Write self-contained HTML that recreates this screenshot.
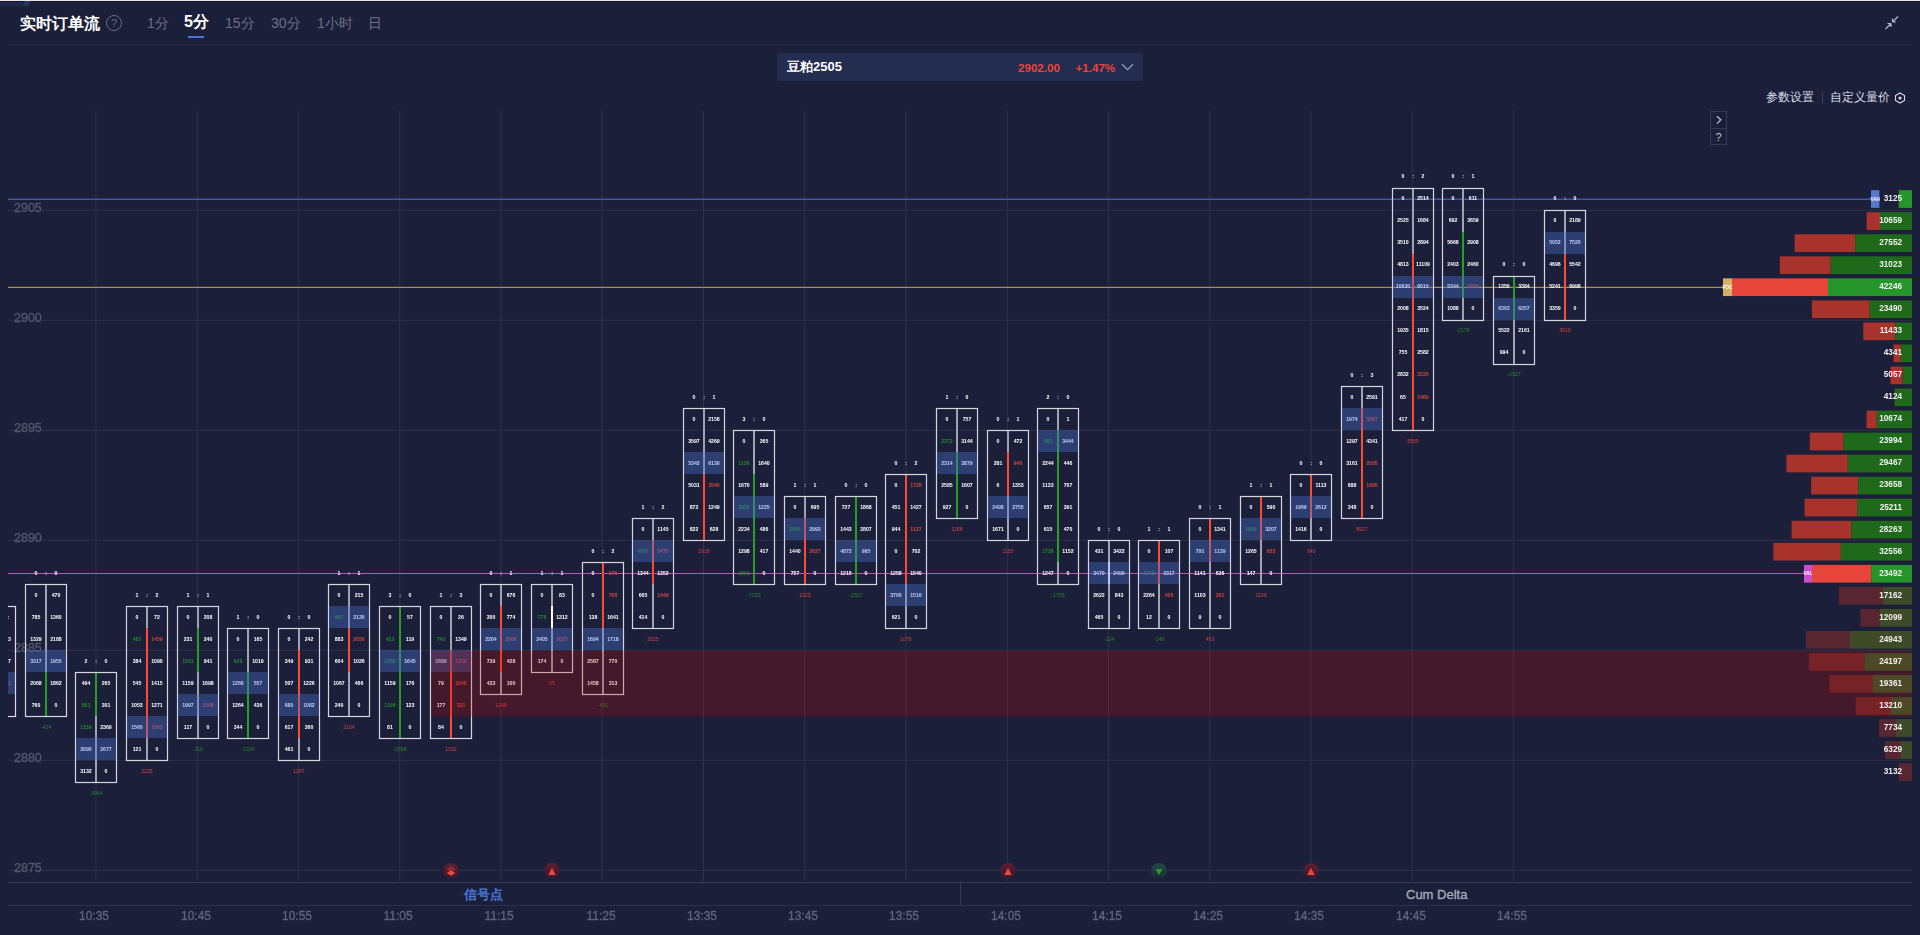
<!DOCTYPE html>
<html><head><meta charset="utf-8"><style>
html,body{margin:0;padding:0;}
body{width:1920px;height:935px;background:#1b1f39;overflow:hidden;position:relative;font-family:"Liberation Sans",sans-serif;}
.a{position:absolute;white-space:nowrap;}
svg text{font-family:"Liberation Sans",sans-serif;}
</style></head><body>
<div class="a" style="left:0;top:0;width:1920px;height:1px;background:#e6e6e8"></div>
<div class="a" style="left:0;top:1px;width:1920px;height:1px;background:#0e1130"></div>
<div class="a" style="left:0;top:2px;width:22px;height:4px;background:#212849"></div>
<div class="a" style="left:22px;top:1px;width:9px;height:5px;background:#263466;clip-path:polygon(30% 0,100% 0,70% 100%,0 100%)"></div>
<div class="a" style="left:20px;top:14px;font-size:16px;font-weight:bold;color:#fff;line-height:20px">实时订单流</div>
<div class="a" style="left:106px;top:15px;width:14px;height:14px;border:1px solid #6a6d80;border-radius:50%;color:#6a6d80;font-size:11px;line-height:14px;text-align:center">?</div>
<div class="a" style="left:147px;top:13px;font-size:14px;color:#6d7084;line-height:20px">1分</div>
<div class="a" style="left:184px;top:12px;font-size:16px;font-weight:bold;color:#fff;line-height:20px">5分</div>
<div class="a" style="left:188px;top:36px;width:16px;height:2px;background:#4a72d8"></div>
<div class="a" style="left:225px;top:13px;font-size:14px;color:#6d7084;line-height:20px">15分</div>
<div class="a" style="left:271px;top:13px;font-size:14px;color:#6d7084;line-height:20px">30分</div>
<div class="a" style="left:317px;top:13px;font-size:14px;color:#6d7084;line-height:20px">1小时</div>
<div class="a" style="left:368px;top:13px;font-size:14px;color:#6d7084;line-height:20px">日</div>
<div class="a" style="left:8px;top:44px;width:1904px;height:1px;background:#262a42"></div>
<svg class="a" style="left:1884px;top:15px" width="16" height="16" viewBox="0 0 16 16"><path d="M1.5 14 L7 8.5 M7 8.5 L7 12 M7 8.5 L3.5 8.5 M14 1.5 L8.5 7 M8.5 7 L8.5 3.5 M8.5 7 L12 7" stroke="#b8bac6" stroke-width="1.2" fill="none"/></svg>
<div class="a" style="left:777px;top:53px;width:366px;height:28px;background:#242c4f;border-radius:2px"></div>
<div class="a" style="left:787px;top:58px;font-size:13px;font-weight:bold;color:#fff;line-height:18px">豆粕2505</div>
<div class="a" style="left:1018px;top:59px;font-size:11.6px;font-weight:bold;color:#ec443a;line-height:18px">2902.00</div>
<div class="a" style="left:1075.5px;top:59px;font-size:11.6px;font-weight:bold;color:#ec443a;line-height:18px">+1.47%</div>
<svg class="a" style="left:1121px;top:62px" width="14" height="10"><path d="M1 2.2 L6.5 7.6 L12 2.2" stroke="#9aa0b8" stroke-width="1.2" fill="none"/></svg>
<div class="a" style="left:1766px;top:89px;font-size:12px;color:#d8dae2;line-height:16px">参数设置</div>
<div class="a" style="left:1822px;top:92px;width:1px;height:11px;background:#3e4258"></div>
<div class="a" style="left:1830px;top:89px;font-size:12px;color:#d8dae2;line-height:16px">自定义量价</div>
<svg class="a" style="left:1894px;top:92px" width="12" height="12"><path d="M6 1 L10.5 3.5 L10.5 8.5 L6 11 L1.5 8.5 L1.5 3.5 Z" stroke="#d8dae2" stroke-width="1.1" fill="none"/><circle cx="6" cy="6" r="1.6" fill="#d8dae2"/></svg>
<div class="a" style="left:1710px;top:111px;width:15px;height:32px;border:1px solid #363a54"></div>
<div class="a" style="left:1711px;top:128px;width:15px;height:1px;background:#363a54"></div>
<svg class="a" style="left:1715px;top:115px" width="8" height="10"><path d="M2 1.3 L5.8 4.8 L2 8.6" stroke="#c4c6d0" stroke-width="1.2" fill="none"/></svg>
<div class="a" style="left:1711px;top:131px;width:15px;color:#c4c6d0;font-size:11px;line-height:13px;text-align:center">?</div>
<div class="a" style="left:464px;top:885.5px;font-size:13px;font-weight:bold;color:#4a78d8;line-height:18px">信号点</div>
<div class="a" style="left:1406px;top:885.5px;font-size:13px;color:#a6a9b8;-webkit-text-stroke:0.35px #a6a9b8;line-height:18px">Cum Delta</div>
<svg class="a" style="left:0;top:0;will-change:transform" width="1920" height="935">
<defs>
<clipPath id="clipc"><rect x="8" y="100" width="1904" height="800"/></clipPath>
<linearGradient id="rg" x1="0" y1="0" x2="0" y2="1"><stop offset="0" stop-color="#5e1f30"/><stop offset="0.5" stop-color="#4a1c30"/><stop offset="1" stop-color="#2a1c36"/></linearGradient>
<linearGradient id="gg" x1="0" y1="0" x2="0" y2="1"><stop offset="0" stop-color="#1e4a48"/><stop offset="0.5" stop-color="#1c3a40"/><stop offset="1" stop-color="#1c2738"/></linearGradient>
</defs>
<line x1="8" y1="210.3" x2="1912" y2="210.3" stroke="#2f3249" stroke-width="1"/>
<line x1="8" y1="320.3" x2="1912" y2="320.3" stroke="#2f3249" stroke-width="1"/>
<line x1="8" y1="430.3" x2="1912" y2="430.3" stroke="#2f3249" stroke-width="1"/>
<line x1="8" y1="540.3" x2="1912" y2="540.3" stroke="#2f3249" stroke-width="1"/>
<line x1="8" y1="650.3" x2="1912" y2="650.3" stroke="#2f3249" stroke-width="1"/>
<line x1="8" y1="760.3" x2="1912" y2="760.3" stroke="#2f3249" stroke-width="1"/>
<line x1="8" y1="870.3" x2="1912" y2="870.3" stroke="#2f3249" stroke-width="1"/>
<line x1="95.95" y1="111" x2="95.95" y2="881" stroke="#2f3249" stroke-width="1"/>
<line x1="197.21" y1="111" x2="197.21" y2="881" stroke="#2f3249" stroke-width="1"/>
<line x1="298.47" y1="111" x2="298.47" y2="881" stroke="#2f3249" stroke-width="1"/>
<line x1="399.73" y1="111" x2="399.73" y2="881" stroke="#2f3249" stroke-width="1"/>
<line x1="500.99" y1="111" x2="500.99" y2="881" stroke="#2f3249" stroke-width="1"/>
<line x1="602.25" y1="111" x2="602.25" y2="881" stroke="#2f3249" stroke-width="1"/>
<line x1="703.51" y1="111" x2="703.51" y2="881" stroke="#2f3249" stroke-width="1"/>
<line x1="804.77" y1="111" x2="804.77" y2="881" stroke="#2f3249" stroke-width="1"/>
<line x1="906.03" y1="111" x2="906.03" y2="881" stroke="#2f3249" stroke-width="1"/>
<line x1="1007.29" y1="111" x2="1007.29" y2="881" stroke="#2f3249" stroke-width="1"/>
<line x1="1108.55" y1="111" x2="1108.55" y2="881" stroke="#2f3249" stroke-width="1"/>
<line x1="1209.81" y1="111" x2="1209.81" y2="881" stroke="#2f3249" stroke-width="1"/>
<line x1="1311.07" y1="111" x2="1311.07" y2="881" stroke="#2f3249" stroke-width="1"/>
<line x1="1412.33" y1="111" x2="1412.33" y2="881" stroke="#2f3249" stroke-width="1"/>
<line x1="1513.59" y1="111" x2="1513.59" y2="881" stroke="#2f3249" stroke-width="1"/>
<text x="14" y="211.9" font-size="12.5" fill="#53576c" stroke="#53576c" stroke-width="0.35">2905</text>
<text x="14" y="321.9" font-size="12.5" fill="#53576c" stroke="#53576c" stroke-width="0.35">2900</text>
<text x="14" y="431.9" font-size="12.5" fill="#53576c" stroke="#53576c" stroke-width="0.35">2895</text>
<text x="14" y="541.9" font-size="12.5" fill="#53576c" stroke="#53576c" stroke-width="0.35">2890</text>
<text x="14" y="651.9" font-size="12.5" fill="#53576c" stroke="#53576c" stroke-width="0.35">2885</text>
<text x="14" y="761.9" font-size="12.5" fill="#53576c" stroke="#53576c" stroke-width="0.35">2880</text>
<text x="14" y="871.9" font-size="12.5" fill="#53576c" stroke="#53576c" stroke-width="0.35">2875</text>
<rect x="8" y="198" width="1863" height="1" fill="#2c3a6c"/>
<rect x="8" y="199" width="1863" height="1" fill="#3e5a9c"/>
<rect x="8" y="286" width="1715" height="1" fill="#3a3840"/>
<rect x="8" y="287" width="1715" height="1" fill="#a88f52"/>
<rect x="8" y="573" width="1796" height="1" fill="#bf50bc"/>
<g clip-path="url(#clipc)">
<rect x="-25.5" y="606.5" width="41" height="110" fill="none" stroke="#dcdce2" stroke-width="1.2"/>
<text x="8.7" y="618.9" font-size="5.2" font-weight="bold" fill="#ffffff" text-anchor="middle">:</text>
<text x="5.0" y="640.9" font-size="5.2" font-weight="bold" fill="#ffffff" text-anchor="middle">2213</text>
<text x="5.0" y="662.9" font-size="5.2" font-weight="bold" fill="#ffffff" text-anchor="middle">3387</text>
<text x="5.0" y="685.0" font-size="5.2" font-weight="bold" fill="#d4443a" text-anchor="middle">2471</text>
<rect x="8" y="672" width="7" height="22" fill="#4a72d0" fill-opacity="0.38"/>
<rect x="45" y="584" width="2" height="132" fill="#a0a2b0"/>
<rect x="45" y="672" width="2" height="44" fill="#24a024"/>
<rect x="25.5" y="584.5" width="41" height="132" fill="none" stroke="#d6d8e0" stroke-width="1.2"/>
<text x="36.0" y="596.8" font-size="5.2" font-weight="bold" fill="#ffffff" text-anchor="middle">0</text>
<text x="56.0" y="596.8" font-size="5.2" font-weight="bold" fill="#ffffff" text-anchor="middle">470</text>
<text x="36.0" y="618.9" font-size="5.2" font-weight="bold" fill="#ffffff" text-anchor="middle">785</text>
<text x="56.0" y="618.9" font-size="5.2" font-weight="bold" fill="#ffffff" text-anchor="middle">1360</text>
<text x="36.0" y="640.9" font-size="5.2" font-weight="bold" fill="#ffffff" text-anchor="middle">1329</text>
<text x="56.0" y="640.9" font-size="5.2" font-weight="bold" fill="#ffffff" text-anchor="middle">2188</text>
<text x="36.0" y="662.9" font-size="5.2" font-weight="bold" fill="#ffffff" text-anchor="middle">3317</text>
<text x="56.0" y="662.9" font-size="5.2" font-weight="bold" fill="#ffffff" text-anchor="middle">1955</text>
<text x="36.0" y="685.0" font-size="5.2" font-weight="bold" fill="#ffffff" text-anchor="middle">2068</text>
<text x="56.0" y="685.0" font-size="5.2" font-weight="bold" fill="#ffffff" text-anchor="middle">1862</text>
<text x="36.0" y="707.0" font-size="5.2" font-weight="bold" fill="#ffffff" text-anchor="middle">760</text>
<text x="56.0" y="707.0" font-size="5.2" font-weight="bold" fill="#ffffff" text-anchor="middle">0</text>
<text x="36.0" y="575.0" font-size="5.2" font-weight="bold" fill="#ffffff" text-anchor="middle">0</text>
<text x="46.0" y="575.0" font-size="5.2" font-weight="bold" fill="#ffffff" text-anchor="middle">:</text>
<text x="56.0" y="575.0" font-size="5.2" font-weight="bold" fill="#ffffff" text-anchor="middle">0</text>
<text x="46.0" y="729.1" font-size="5.2" font-weight="normal" fill="#23892b" text-anchor="middle">-424</text>
<rect x="26.1" y="650" width="39.8" height="22" fill="#4a72d0" fill-opacity="0.38"/>
<rect x="95" y="672" width="2" height="110" fill="#a0a2b0"/>
<rect x="95" y="672" width="2" height="44" fill="#24a024"/>
<rect x="75.5" y="672.5" width="41" height="110" fill="none" stroke="#d6d8e0" stroke-width="1.2"/>
<text x="86.0" y="685.0" font-size="5.2" font-weight="bold" fill="#ffffff" text-anchor="middle">494</text>
<text x="106.0" y="685.0" font-size="5.2" font-weight="bold" fill="#ffffff" text-anchor="middle">265</text>
<text x="86.0" y="707.0" font-size="5.2" font-weight="bold" fill="#23892b" text-anchor="middle">801</text>
<text x="106.0" y="707.0" font-size="5.2" font-weight="bold" fill="#ffffff" text-anchor="middle">301</text>
<text x="86.0" y="729.1" font-size="5.2" font-weight="bold" fill="#23892b" text-anchor="middle">1139</text>
<text x="106.0" y="729.1" font-size="5.2" font-weight="bold" fill="#ffffff" text-anchor="middle">2369</text>
<text x="86.0" y="751.1" font-size="5.2" font-weight="bold" fill="#ffffff" text-anchor="middle">3090</text>
<text x="106.0" y="751.1" font-size="5.2" font-weight="bold" fill="#ffffff" text-anchor="middle">2677</text>
<text x="86.0" y="773.1" font-size="5.2" font-weight="bold" fill="#ffffff" text-anchor="middle">3132</text>
<text x="106.0" y="773.1" font-size="5.2" font-weight="bold" fill="#ffffff" text-anchor="middle">0</text>
<text x="86.0" y="663.1" font-size="5.2" font-weight="bold" fill="#ffffff" text-anchor="middle">2</text>
<text x="96.0" y="663.1" font-size="5.2" font-weight="bold" fill="#ffffff" text-anchor="middle">:</text>
<text x="106.0" y="663.1" font-size="5.2" font-weight="bold" fill="#ffffff" text-anchor="middle">0</text>
<text x="96.0" y="795.2" font-size="5.2" font-weight="normal" fill="#23892b" text-anchor="middle">-3044</text>
<rect x="76.1" y="738" width="39.8" height="22" fill="#4a72d0" fill-opacity="0.38"/>
<rect x="146" y="606" width="2" height="154" fill="#a0a2b0"/>
<rect x="146" y="628" width="2" height="110" fill="#ff4a32"/>
<rect x="126.5" y="606.5" width="41" height="154" fill="none" stroke="#d6d8e0" stroke-width="1.2"/>
<text x="137.0" y="618.9" font-size="5.2" font-weight="bold" fill="#ffffff" text-anchor="middle">0</text>
<text x="157.0" y="618.9" font-size="5.2" font-weight="bold" fill="#ffffff" text-anchor="middle">72</text>
<text x="137.0" y="640.9" font-size="5.2" font-weight="bold" fill="#23892b" text-anchor="middle">482</text>
<text x="157.0" y="640.9" font-size="5.2" font-weight="bold" fill="#d4443a" text-anchor="middle">1459</text>
<text x="137.0" y="662.9" font-size="5.2" font-weight="bold" fill="#ffffff" text-anchor="middle">384</text>
<text x="157.0" y="662.9" font-size="5.2" font-weight="bold" fill="#ffffff" text-anchor="middle">1090</text>
<text x="137.0" y="685.0" font-size="5.2" font-weight="bold" fill="#ffffff" text-anchor="middle">545</text>
<text x="157.0" y="685.0" font-size="5.2" font-weight="bold" fill="#ffffff" text-anchor="middle">1415</text>
<text x="137.0" y="707.0" font-size="5.2" font-weight="bold" fill="#ffffff" text-anchor="middle">1053</text>
<text x="157.0" y="707.0" font-size="5.2" font-weight="bold" fill="#ffffff" text-anchor="middle">1271</text>
<text x="137.0" y="729.1" font-size="5.2" font-weight="bold" fill="#ffffff" text-anchor="middle">1560</text>
<text x="157.0" y="729.1" font-size="5.2" font-weight="bold" fill="#d4443a" text-anchor="middle">1063</text>
<text x="137.0" y="751.1" font-size="5.2" font-weight="bold" fill="#ffffff" text-anchor="middle">121</text>
<text x="157.0" y="751.1" font-size="5.2" font-weight="bold" fill="#ffffff" text-anchor="middle">0</text>
<text x="137.0" y="597.0" font-size="5.2" font-weight="bold" fill="#ffffff" text-anchor="middle">1</text>
<text x="147.0" y="597.0" font-size="5.2" font-weight="bold" fill="#ffffff" text-anchor="middle">:</text>
<text x="157.0" y="597.0" font-size="5.2" font-weight="bold" fill="#ffffff" text-anchor="middle">2</text>
<text x="147.0" y="773.1" font-size="5.2" font-weight="normal" fill="#d4443a" text-anchor="middle">2225</text>
<rect x="127.1" y="716" width="39.8" height="22" fill="#4a72d0" fill-opacity="0.38"/>
<rect x="197" y="606" width="2" height="132" fill="#a0a2b0"/>
<rect x="197" y="628" width="2" height="44" fill="#24a024"/>
<rect x="177.5" y="606.5" width="41" height="132" fill="none" stroke="#d6d8e0" stroke-width="1.2"/>
<text x="188.0" y="618.9" font-size="5.2" font-weight="bold" fill="#ffffff" text-anchor="middle">0</text>
<text x="208.0" y="618.9" font-size="5.2" font-weight="bold" fill="#ffffff" text-anchor="middle">208</text>
<text x="188.0" y="640.9" font-size="5.2" font-weight="bold" fill="#ffffff" text-anchor="middle">231</text>
<text x="208.0" y="640.9" font-size="5.2" font-weight="bold" fill="#ffffff" text-anchor="middle">240</text>
<text x="188.0" y="662.9" font-size="5.2" font-weight="bold" fill="#23892b" text-anchor="middle">1201</text>
<text x="208.0" y="662.9" font-size="5.2" font-weight="bold" fill="#ffffff" text-anchor="middle">941</text>
<text x="188.0" y="685.0" font-size="5.2" font-weight="bold" fill="#ffffff" text-anchor="middle">1159</text>
<text x="208.0" y="685.0" font-size="5.2" font-weight="bold" fill="#ffffff" text-anchor="middle">1698</text>
<text x="188.0" y="707.0" font-size="5.2" font-weight="bold" fill="#ffffff" text-anchor="middle">1997</text>
<text x="208.0" y="707.0" font-size="5.2" font-weight="bold" fill="#d4443a" text-anchor="middle">1508</text>
<text x="188.0" y="729.1" font-size="5.2" font-weight="bold" fill="#ffffff" text-anchor="middle">117</text>
<text x="208.0" y="729.1" font-size="5.2" font-weight="bold" fill="#ffffff" text-anchor="middle">0</text>
<text x="188.0" y="597.0" font-size="5.2" font-weight="bold" fill="#ffffff" text-anchor="middle">1</text>
<text x="198.0" y="597.0" font-size="5.2" font-weight="bold" fill="#ffffff" text-anchor="middle">:</text>
<text x="208.0" y="597.0" font-size="5.2" font-weight="bold" fill="#ffffff" text-anchor="middle">1</text>
<text x="198.0" y="751.1" font-size="5.2" font-weight="normal" fill="#23892b" text-anchor="middle">-110</text>
<rect x="178.1" y="694" width="39.8" height="22" fill="#4a72d0" fill-opacity="0.38"/>
<rect x="247" y="628" width="2" height="110" fill="#a0a2b0"/>
<rect x="247" y="672" width="2" height="66" fill="#24a024"/>
<rect x="227.5" y="628.5" width="41" height="110" fill="none" stroke="#d6d8e0" stroke-width="1.2"/>
<text x="238.0" y="640.9" font-size="5.2" font-weight="bold" fill="#ffffff" text-anchor="middle">0</text>
<text x="258.0" y="640.9" font-size="5.2" font-weight="bold" fill="#ffffff" text-anchor="middle">165</text>
<text x="238.0" y="662.9" font-size="5.2" font-weight="bold" fill="#23892b" text-anchor="middle">629</text>
<text x="258.0" y="662.9" font-size="5.2" font-weight="bold" fill="#ffffff" text-anchor="middle">1019</text>
<text x="238.0" y="685.0" font-size="5.2" font-weight="bold" fill="#ffffff" text-anchor="middle">1266</text>
<text x="258.0" y="685.0" font-size="5.2" font-weight="bold" fill="#ffffff" text-anchor="middle">557</text>
<text x="238.0" y="707.0" font-size="5.2" font-weight="bold" fill="#ffffff" text-anchor="middle">1264</text>
<text x="258.0" y="707.0" font-size="5.2" font-weight="bold" fill="#ffffff" text-anchor="middle">436</text>
<text x="238.0" y="729.1" font-size="5.2" font-weight="bold" fill="#ffffff" text-anchor="middle">344</text>
<text x="258.0" y="729.1" font-size="5.2" font-weight="bold" fill="#ffffff" text-anchor="middle">0</text>
<text x="238.0" y="619.1" font-size="5.2" font-weight="bold" fill="#ffffff" text-anchor="middle">1</text>
<text x="248.0" y="619.1" font-size="5.2" font-weight="bold" fill="#ffffff" text-anchor="middle">:</text>
<text x="258.0" y="619.1" font-size="5.2" font-weight="bold" fill="#ffffff" text-anchor="middle">0</text>
<text x="248.0" y="751.1" font-size="5.2" font-weight="normal" fill="#23892b" text-anchor="middle">-1326</text>
<rect x="228.1" y="672" width="39.8" height="22" fill="#4a72d0" fill-opacity="0.38"/>
<rect x="298" y="628" width="2" height="132" fill="#a0a2b0"/>
<rect x="298" y="650" width="2" height="88" fill="#ff4a32"/>
<rect x="278.5" y="628.5" width="41" height="132" fill="none" stroke="#d6d8e0" stroke-width="1.2"/>
<text x="289.0" y="640.9" font-size="5.2" font-weight="bold" fill="#ffffff" text-anchor="middle">0</text>
<text x="309.0" y="640.9" font-size="5.2" font-weight="bold" fill="#ffffff" text-anchor="middle">242</text>
<text x="289.0" y="662.9" font-size="5.2" font-weight="bold" fill="#ffffff" text-anchor="middle">349</text>
<text x="309.0" y="662.9" font-size="5.2" font-weight="bold" fill="#ffffff" text-anchor="middle">931</text>
<text x="289.0" y="685.0" font-size="5.2" font-weight="bold" fill="#ffffff" text-anchor="middle">507</text>
<text x="309.0" y="685.0" font-size="5.2" font-weight="bold" fill="#ffffff" text-anchor="middle">1226</text>
<text x="289.0" y="707.0" font-size="5.2" font-weight="bold" fill="#ffffff" text-anchor="middle">680</text>
<text x="309.0" y="707.0" font-size="5.2" font-weight="bold" fill="#ffffff" text-anchor="middle">1082</text>
<text x="289.0" y="729.1" font-size="5.2" font-weight="bold" fill="#ffffff" text-anchor="middle">617</text>
<text x="309.0" y="729.1" font-size="5.2" font-weight="bold" fill="#ffffff" text-anchor="middle">360</text>
<text x="289.0" y="751.1" font-size="5.2" font-weight="bold" fill="#ffffff" text-anchor="middle">461</text>
<text x="309.0" y="751.1" font-size="5.2" font-weight="bold" fill="#ffffff" text-anchor="middle">0</text>
<text x="289.0" y="619.1" font-size="5.2" font-weight="bold" fill="#ffffff" text-anchor="middle">0</text>
<text x="299.0" y="619.1" font-size="5.2" font-weight="bold" fill="#ffffff" text-anchor="middle">:</text>
<text x="309.0" y="619.1" font-size="5.2" font-weight="bold" fill="#ffffff" text-anchor="middle">0</text>
<text x="299.0" y="773.1" font-size="5.2" font-weight="normal" fill="#d4443a" text-anchor="middle">1267</text>
<rect x="279.1" y="694" width="39.8" height="22" fill="#4a72d0" fill-opacity="0.38"/>
<rect x="348" y="584" width="2" height="132" fill="#a0a2b0"/>
<rect x="348" y="628" width="2" height="44" fill="#ff4a32"/>
<rect x="328.5" y="584.5" width="41" height="132" fill="none" stroke="#d6d8e0" stroke-width="1.2"/>
<text x="339.0" y="596.8" font-size="5.2" font-weight="bold" fill="#ffffff" text-anchor="middle">0</text>
<text x="359.0" y="596.8" font-size="5.2" font-weight="bold" fill="#ffffff" text-anchor="middle">215</text>
<text x="339.0" y="618.9" font-size="5.2" font-weight="bold" fill="#23892b" text-anchor="middle">997</text>
<text x="359.0" y="618.9" font-size="5.2" font-weight="bold" fill="#ffffff" text-anchor="middle">2130</text>
<text x="339.0" y="640.9" font-size="5.2" font-weight="bold" fill="#ffffff" text-anchor="middle">883</text>
<text x="359.0" y="640.9" font-size="5.2" font-weight="bold" fill="#d4443a" text-anchor="middle">2050</text>
<text x="339.0" y="662.9" font-size="5.2" font-weight="bold" fill="#ffffff" text-anchor="middle">604</text>
<text x="359.0" y="662.9" font-size="5.2" font-weight="bold" fill="#ffffff" text-anchor="middle">1026</text>
<text x="339.0" y="685.0" font-size="5.2" font-weight="bold" fill="#ffffff" text-anchor="middle">1067</text>
<text x="359.0" y="685.0" font-size="5.2" font-weight="bold" fill="#ffffff" text-anchor="middle">466</text>
<text x="339.0" y="707.0" font-size="5.2" font-weight="bold" fill="#ffffff" text-anchor="middle">240</text>
<text x="359.0" y="707.0" font-size="5.2" font-weight="bold" fill="#ffffff" text-anchor="middle">0</text>
<text x="339.0" y="575.0" font-size="5.2" font-weight="bold" fill="#ffffff" text-anchor="middle">1</text>
<text x="349.0" y="575.0" font-size="5.2" font-weight="bold" fill="#ffffff" text-anchor="middle">:</text>
<text x="359.0" y="575.0" font-size="5.2" font-weight="bold" fill="#ffffff" text-anchor="middle">1</text>
<text x="349.0" y="729.1" font-size="5.2" font-weight="normal" fill="#d4443a" text-anchor="middle">2104</text>
<rect x="329.1" y="606" width="39.8" height="22" fill="#4a72d0" fill-opacity="0.38"/>
<rect x="399" y="606" width="2" height="132" fill="#a0a2b0"/>
<rect x="399" y="606" width="2" height="132" fill="#24a024"/>
<rect x="379.5" y="606.5" width="41" height="132" fill="none" stroke="#d6d8e0" stroke-width="1.2"/>
<text x="390.0" y="618.9" font-size="5.2" font-weight="bold" fill="#ffffff" text-anchor="middle">0</text>
<text x="410.0" y="618.9" font-size="5.2" font-weight="bold" fill="#ffffff" text-anchor="middle">57</text>
<text x="390.0" y="640.9" font-size="5.2" font-weight="bold" fill="#23892b" text-anchor="middle">422</text>
<text x="410.0" y="640.9" font-size="5.2" font-weight="bold" fill="#ffffff" text-anchor="middle">119</text>
<text x="390.0" y="662.9" font-size="5.2" font-weight="bold" fill="#23892b" text-anchor="middle">1360</text>
<text x="410.0" y="662.9" font-size="5.2" font-weight="bold" fill="#ffffff" text-anchor="middle">1645</text>
<text x="390.0" y="685.0" font-size="5.2" font-weight="bold" fill="#ffffff" text-anchor="middle">1159</text>
<text x="410.0" y="685.0" font-size="5.2" font-weight="bold" fill="#ffffff" text-anchor="middle">176</text>
<text x="390.0" y="707.0" font-size="5.2" font-weight="bold" fill="#23892b" text-anchor="middle">1196</text>
<text x="410.0" y="707.0" font-size="5.2" font-weight="bold" fill="#ffffff" text-anchor="middle">123</text>
<text x="390.0" y="729.1" font-size="5.2" font-weight="bold" fill="#ffffff" text-anchor="middle">81</text>
<text x="410.0" y="729.1" font-size="5.2" font-weight="bold" fill="#ffffff" text-anchor="middle">0</text>
<text x="390.0" y="597.0" font-size="5.2" font-weight="bold" fill="#ffffff" text-anchor="middle">3</text>
<text x="400.0" y="597.0" font-size="5.2" font-weight="bold" fill="#ffffff" text-anchor="middle">:</text>
<text x="410.0" y="597.0" font-size="5.2" font-weight="bold" fill="#ffffff" text-anchor="middle">0</text>
<text x="400.0" y="751.1" font-size="5.2" font-weight="normal" fill="#23892b" text-anchor="middle">-2098</text>
<rect x="380.1" y="650" width="39.8" height="22" fill="#4a72d0" fill-opacity="0.38"/>
<rect x="450" y="606" width="2" height="132" fill="#a0a2b0"/>
<rect x="450" y="650" width="2" height="88" fill="#ff4a32"/>
<rect x="430.5" y="606.5" width="41" height="132" fill="none" stroke="#d6d8e0" stroke-width="1.2"/>
<text x="441.0" y="618.9" font-size="5.2" font-weight="bold" fill="#ffffff" text-anchor="middle">0</text>
<text x="461.0" y="618.9" font-size="5.2" font-weight="bold" fill="#ffffff" text-anchor="middle">26</text>
<text x="441.0" y="640.9" font-size="5.2" font-weight="bold" fill="#23892b" text-anchor="middle">742</text>
<text x="461.0" y="640.9" font-size="5.2" font-weight="bold" fill="#ffffff" text-anchor="middle">1349</text>
<text x="441.0" y="662.9" font-size="5.2" font-weight="bold" fill="#ffffff" text-anchor="middle">1689</text>
<text x="461.0" y="662.9" font-size="5.2" font-weight="bold" fill="#d4443a" text-anchor="middle">1359</text>
<text x="441.0" y="685.0" font-size="5.2" font-weight="bold" fill="#ffffff" text-anchor="middle">79</text>
<text x="461.0" y="685.0" font-size="5.2" font-weight="bold" fill="#d4443a" text-anchor="middle">1048</text>
<text x="441.0" y="707.0" font-size="5.2" font-weight="bold" fill="#ffffff" text-anchor="middle">177</text>
<text x="461.0" y="707.0" font-size="5.2" font-weight="bold" fill="#d4443a" text-anchor="middle">321</text>
<text x="441.0" y="729.1" font-size="5.2" font-weight="bold" fill="#ffffff" text-anchor="middle">84</text>
<text x="461.0" y="729.1" font-size="5.2" font-weight="bold" fill="#ffffff" text-anchor="middle">0</text>
<text x="441.0" y="597.0" font-size="5.2" font-weight="bold" fill="#ffffff" text-anchor="middle">1</text>
<text x="451.0" y="597.0" font-size="5.2" font-weight="bold" fill="#ffffff" text-anchor="middle">:</text>
<text x="461.0" y="597.0" font-size="5.2" font-weight="bold" fill="#ffffff" text-anchor="middle">3</text>
<text x="451.0" y="751.1" font-size="5.2" font-weight="normal" fill="#d4443a" text-anchor="middle">1332</text>
<rect x="431.1" y="650" width="39.8" height="22" fill="#4a72d0" fill-opacity="0.38"/>
<rect x="500" y="584" width="2" height="110" fill="#a0a2b0"/>
<rect x="500" y="606" width="2" height="66" fill="#ff4a32"/>
<rect x="480.5" y="584.5" width="41" height="110" fill="none" stroke="#d6d8e0" stroke-width="1.2"/>
<text x="491.0" y="596.8" font-size="5.2" font-weight="bold" fill="#ffffff" text-anchor="middle">0</text>
<text x="511.0" y="596.8" font-size="5.2" font-weight="bold" fill="#ffffff" text-anchor="middle">676</text>
<text x="491.0" y="618.9" font-size="5.2" font-weight="bold" fill="#ffffff" text-anchor="middle">300</text>
<text x="511.0" y="618.9" font-size="5.2" font-weight="bold" fill="#ffffff" text-anchor="middle">774</text>
<text x="491.0" y="640.9" font-size="5.2" font-weight="bold" fill="#ffffff" text-anchor="middle">2264</text>
<text x="511.0" y="640.9" font-size="5.2" font-weight="bold" fill="#d4443a" text-anchor="middle">3006</text>
<text x="491.0" y="662.9" font-size="5.2" font-weight="bold" fill="#ffffff" text-anchor="middle">739</text>
<text x="511.0" y="662.9" font-size="5.2" font-weight="bold" fill="#ffffff" text-anchor="middle">428</text>
<text x="491.0" y="685.0" font-size="5.2" font-weight="bold" fill="#ffffff" text-anchor="middle">433</text>
<text x="511.0" y="685.0" font-size="5.2" font-weight="bold" fill="#ffffff" text-anchor="middle">100</text>
<text x="491.0" y="575.0" font-size="5.2" font-weight="bold" fill="#ffffff" text-anchor="middle">0</text>
<text x="501.0" y="575.0" font-size="5.2" font-weight="bold" fill="#ffffff" text-anchor="middle">:</text>
<text x="511.0" y="575.0" font-size="5.2" font-weight="bold" fill="#ffffff" text-anchor="middle">1</text>
<text x="501.0" y="707.0" font-size="5.2" font-weight="normal" fill="#d4443a" text-anchor="middle">1248</text>
<rect x="481.1" y="628" width="39.8" height="22" fill="#4a72d0" fill-opacity="0.38"/>
<rect x="551" y="584" width="2" height="88" fill="#a0a2b0"/>
<rect x="551" y="606" width="2" height="22" fill="#ffffff"/>
<rect x="531.5" y="584.5" width="41" height="88" fill="none" stroke="#d6d8e0" stroke-width="1.2"/>
<text x="542.0" y="596.8" font-size="5.2" font-weight="bold" fill="#ffffff" text-anchor="middle">0</text>
<text x="562.0" y="596.8" font-size="5.2" font-weight="bold" fill="#ffffff" text-anchor="middle">83</text>
<text x="542.0" y="618.9" font-size="5.2" font-weight="bold" fill="#23892b" text-anchor="middle">778</text>
<text x="562.0" y="618.9" font-size="5.2" font-weight="bold" fill="#ffffff" text-anchor="middle">1312</text>
<text x="542.0" y="640.9" font-size="5.2" font-weight="bold" fill="#ffffff" text-anchor="middle">2405</text>
<text x="562.0" y="640.9" font-size="5.2" font-weight="bold" fill="#d4443a" text-anchor="middle">2027</text>
<text x="542.0" y="662.9" font-size="5.2" font-weight="bold" fill="#ffffff" text-anchor="middle">174</text>
<text x="562.0" y="662.9" font-size="5.2" font-weight="bold" fill="#ffffff" text-anchor="middle">0</text>
<text x="542.0" y="575.0" font-size="5.2" font-weight="bold" fill="#ffffff" text-anchor="middle">1</text>
<text x="552.0" y="575.0" font-size="5.2" font-weight="bold" fill="#ffffff" text-anchor="middle">:</text>
<text x="562.0" y="575.0" font-size="5.2" font-weight="bold" fill="#ffffff" text-anchor="middle">1</text>
<text x="552.0" y="685.0" font-size="5.2" font-weight="normal" fill="#d4443a" text-anchor="middle">65</text>
<rect x="532.1" y="628" width="39.8" height="22" fill="#4a72d0" fill-opacity="0.38"/>
<rect x="602" y="562" width="2" height="132" fill="#a0a2b0"/>
<rect x="602" y="562" width="2" height="66" fill="#ff4a32"/>
<rect x="582.5" y="562.5" width="41" height="132" fill="none" stroke="#d6d8e0" stroke-width="1.2"/>
<text x="593.0" y="574.8" font-size="5.2" font-weight="bold" fill="#ffffff" text-anchor="middle">0</text>
<text x="613.0" y="574.8" font-size="5.2" font-weight="bold" fill="#d4443a" text-anchor="middle">176</text>
<text x="593.0" y="596.8" font-size="5.2" font-weight="bold" fill="#ffffff" text-anchor="middle">0</text>
<text x="613.0" y="596.8" font-size="5.2" font-weight="bold" fill="#d4443a" text-anchor="middle">768</text>
<text x="593.0" y="618.9" font-size="5.2" font-weight="bold" fill="#ffffff" text-anchor="middle">138</text>
<text x="613.0" y="618.9" font-size="5.2" font-weight="bold" fill="#ffffff" text-anchor="middle">1641</text>
<text x="593.0" y="640.9" font-size="5.2" font-weight="bold" fill="#ffffff" text-anchor="middle">1694</text>
<text x="613.0" y="640.9" font-size="5.2" font-weight="bold" fill="#ffffff" text-anchor="middle">1718</text>
<text x="593.0" y="662.9" font-size="5.2" font-weight="bold" fill="#ffffff" text-anchor="middle">2587</text>
<text x="613.0" y="662.9" font-size="5.2" font-weight="bold" fill="#ffffff" text-anchor="middle">770</text>
<text x="593.0" y="685.0" font-size="5.2" font-weight="bold" fill="#ffffff" text-anchor="middle">1458</text>
<text x="613.0" y="685.0" font-size="5.2" font-weight="bold" fill="#ffffff" text-anchor="middle">313</text>
<text x="593.0" y="552.9" font-size="5.2" font-weight="bold" fill="#ffffff" text-anchor="middle">0</text>
<text x="603.0" y="552.9" font-size="5.2" font-weight="bold" fill="#ffffff" text-anchor="middle">:</text>
<text x="613.0" y="552.9" font-size="5.2" font-weight="bold" fill="#ffffff" text-anchor="middle">2</text>
<text x="603.0" y="707.0" font-size="5.2" font-weight="normal" fill="#23892b" text-anchor="middle">-491</text>
<rect x="583.1" y="628" width="39.8" height="22" fill="#4a72d0" fill-opacity="0.38"/>
<rect x="652" y="518" width="2" height="110" fill="#a0a2b0"/>
<rect x="652" y="540" width="2" height="44" fill="#ff4a32"/>
<rect x="632.5" y="518.5" width="41" height="110" fill="none" stroke="#d6d8e0" stroke-width="1.2"/>
<text x="643.0" y="530.7" font-size="5.2" font-weight="bold" fill="#ffffff" text-anchor="middle">0</text>
<text x="663.0" y="530.7" font-size="5.2" font-weight="bold" fill="#ffffff" text-anchor="middle">1145</text>
<text x="643.0" y="552.7" font-size="5.2" font-weight="bold" fill="#23892b" text-anchor="middle">4072</text>
<text x="663.0" y="552.7" font-size="5.2" font-weight="bold" fill="#d4443a" text-anchor="middle">5475</text>
<text x="643.0" y="574.8" font-size="5.2" font-weight="bold" fill="#ffffff" text-anchor="middle">1344</text>
<text x="663.0" y="574.8" font-size="5.2" font-weight="bold" fill="#ffffff" text-anchor="middle">1352</text>
<text x="643.0" y="596.8" font-size="5.2" font-weight="bold" fill="#ffffff" text-anchor="middle">665</text>
<text x="663.0" y="596.8" font-size="5.2" font-weight="bold" fill="#d4443a" text-anchor="middle">1449</text>
<text x="643.0" y="618.9" font-size="5.2" font-weight="bold" fill="#ffffff" text-anchor="middle">414</text>
<text x="663.0" y="618.9" font-size="5.2" font-weight="bold" fill="#ffffff" text-anchor="middle">0</text>
<text x="643.0" y="508.9" font-size="5.2" font-weight="bold" fill="#ffffff" text-anchor="middle">1</text>
<text x="653.0" y="508.9" font-size="5.2" font-weight="bold" fill="#ffffff" text-anchor="middle">:</text>
<text x="663.0" y="508.9" font-size="5.2" font-weight="bold" fill="#ffffff" text-anchor="middle">2</text>
<text x="653.0" y="640.9" font-size="5.2" font-weight="normal" fill="#d4443a" text-anchor="middle">2925</text>
<rect x="633.1" y="540" width="39.8" height="22" fill="#4a72d0" fill-opacity="0.38"/>
<rect x="703" y="408" width="2" height="132" fill="#a0a2b0"/>
<rect x="703" y="474" width="2" height="66" fill="#ff4a32"/>
<rect x="683.5" y="408.5" width="41" height="132" fill="none" stroke="#d6d8e0" stroke-width="1.2"/>
<text x="694.0" y="420.5" font-size="5.2" font-weight="bold" fill="#ffffff" text-anchor="middle">0</text>
<text x="714.0" y="420.5" font-size="5.2" font-weight="bold" fill="#ffffff" text-anchor="middle">2158</text>
<text x="694.0" y="442.5" font-size="5.2" font-weight="bold" fill="#ffffff" text-anchor="middle">3597</text>
<text x="714.0" y="442.5" font-size="5.2" font-weight="bold" fill="#ffffff" text-anchor="middle">4269</text>
<text x="694.0" y="464.6" font-size="5.2" font-weight="bold" fill="#ffffff" text-anchor="middle">5342</text>
<text x="714.0" y="464.6" font-size="5.2" font-weight="bold" fill="#ffffff" text-anchor="middle">6130</text>
<text x="694.0" y="486.6" font-size="5.2" font-weight="bold" fill="#ffffff" text-anchor="middle">5031</text>
<text x="714.0" y="486.6" font-size="5.2" font-weight="bold" fill="#d4443a" text-anchor="middle">3540</text>
<text x="694.0" y="508.7" font-size="5.2" font-weight="bold" fill="#ffffff" text-anchor="middle">872</text>
<text x="714.0" y="508.7" font-size="5.2" font-weight="bold" fill="#ffffff" text-anchor="middle">1249</text>
<text x="694.0" y="530.7" font-size="5.2" font-weight="bold" fill="#ffffff" text-anchor="middle">822</text>
<text x="714.0" y="530.7" font-size="5.2" font-weight="bold" fill="#ffffff" text-anchor="middle">628</text>
<text x="694.0" y="398.7" font-size="5.2" font-weight="bold" fill="#ffffff" text-anchor="middle">0</text>
<text x="704.0" y="398.7" font-size="5.2" font-weight="bold" fill="#ffffff" text-anchor="middle">:</text>
<text x="714.0" y="398.7" font-size="5.2" font-weight="bold" fill="#ffffff" text-anchor="middle">1</text>
<text x="704.0" y="552.7" font-size="5.2" font-weight="normal" fill="#d4443a" text-anchor="middle">2318</text>
<rect x="684.1" y="452" width="39.8" height="22" fill="#4a72d0" fill-opacity="0.38"/>
<rect x="753" y="430" width="2" height="154" fill="#a0a2b0"/>
<rect x="753" y="474" width="2" height="110" fill="#24a024"/>
<rect x="733.5" y="430.5" width="41" height="154" fill="none" stroke="#d6d8e0" stroke-width="1.2"/>
<text x="744.0" y="442.5" font-size="5.2" font-weight="bold" fill="#ffffff" text-anchor="middle">0</text>
<text x="764.0" y="442.5" font-size="5.2" font-weight="bold" fill="#ffffff" text-anchor="middle">365</text>
<text x="744.0" y="464.6" font-size="5.2" font-weight="bold" fill="#23892b" text-anchor="middle">1138</text>
<text x="764.0" y="464.6" font-size="5.2" font-weight="bold" fill="#ffffff" text-anchor="middle">1640</text>
<text x="744.0" y="486.6" font-size="5.2" font-weight="bold" fill="#ffffff" text-anchor="middle">1670</text>
<text x="764.0" y="486.6" font-size="5.2" font-weight="bold" fill="#ffffff" text-anchor="middle">589</text>
<text x="744.0" y="508.7" font-size="5.2" font-weight="bold" fill="#23892b" text-anchor="middle">3950</text>
<text x="764.0" y="508.7" font-size="5.2" font-weight="bold" fill="#ffffff" text-anchor="middle">1225</text>
<text x="744.0" y="530.7" font-size="5.2" font-weight="bold" fill="#ffffff" text-anchor="middle">2234</text>
<text x="764.0" y="530.7" font-size="5.2" font-weight="bold" fill="#ffffff" text-anchor="middle">486</text>
<text x="744.0" y="552.7" font-size="5.2" font-weight="bold" fill="#ffffff" text-anchor="middle">1298</text>
<text x="764.0" y="552.7" font-size="5.2" font-weight="bold" fill="#ffffff" text-anchor="middle">417</text>
<text x="744.0" y="574.8" font-size="5.2" font-weight="bold" fill="#23892b" text-anchor="middle">1691</text>
<text x="764.0" y="574.8" font-size="5.2" font-weight="bold" fill="#ffffff" text-anchor="middle">0</text>
<text x="744.0" y="420.7" font-size="5.2" font-weight="bold" fill="#ffffff" text-anchor="middle">3</text>
<text x="754.0" y="420.7" font-size="5.2" font-weight="bold" fill="#ffffff" text-anchor="middle">:</text>
<text x="764.0" y="420.7" font-size="5.2" font-weight="bold" fill="#ffffff" text-anchor="middle">0</text>
<text x="754.0" y="596.8" font-size="5.2" font-weight="normal" fill="#23892b" text-anchor="middle">-7259</text>
<rect x="734.1" y="496" width="39.8" height="22" fill="#4a72d0" fill-opacity="0.38"/>
<rect x="804" y="496" width="2" height="88" fill="#a0a2b0"/>
<rect x="804" y="518" width="2" height="66" fill="#ff4a32"/>
<rect x="784.5" y="496.5" width="41" height="88" fill="none" stroke="#d6d8e0" stroke-width="1.2"/>
<text x="795.0" y="508.7" font-size="5.2" font-weight="bold" fill="#ffffff" text-anchor="middle">0</text>
<text x="815.0" y="508.7" font-size="5.2" font-weight="bold" fill="#ffffff" text-anchor="middle">695</text>
<text x="795.0" y="530.7" font-size="5.2" font-weight="bold" fill="#23892b" text-anchor="middle">3095</text>
<text x="815.0" y="530.7" font-size="5.2" font-weight="bold" fill="#ffffff" text-anchor="middle">2993</text>
<text x="795.0" y="552.7" font-size="5.2" font-weight="bold" fill="#ffffff" text-anchor="middle">1440</text>
<text x="815.0" y="552.7" font-size="5.2" font-weight="bold" fill="#d4443a" text-anchor="middle">2627</text>
<text x="795.0" y="574.8" font-size="5.2" font-weight="bold" fill="#ffffff" text-anchor="middle">757</text>
<text x="815.0" y="574.8" font-size="5.2" font-weight="bold" fill="#ffffff" text-anchor="middle">0</text>
<text x="795.0" y="486.8" font-size="5.2" font-weight="bold" fill="#ffffff" text-anchor="middle">1</text>
<text x="805.0" y="486.8" font-size="5.2" font-weight="bold" fill="#ffffff" text-anchor="middle">:</text>
<text x="815.0" y="486.8" font-size="5.2" font-weight="bold" fill="#ffffff" text-anchor="middle">1</text>
<text x="805.0" y="596.8" font-size="5.2" font-weight="normal" fill="#d4443a" text-anchor="middle">1023</text>
<rect x="785.1" y="518" width="39.8" height="22" fill="#4a72d0" fill-opacity="0.38"/>
<rect x="855" y="496" width="2" height="88" fill="#a0a2b0"/>
<rect x="855" y="496" width="2" height="88" fill="#24a024"/>
<rect x="835.5" y="496.5" width="41" height="88" fill="none" stroke="#d6d8e0" stroke-width="1.2"/>
<text x="846.0" y="508.7" font-size="5.2" font-weight="bold" fill="#ffffff" text-anchor="middle">727</text>
<text x="866.0" y="508.7" font-size="5.2" font-weight="bold" fill="#ffffff" text-anchor="middle">1868</text>
<text x="846.0" y="530.7" font-size="5.2" font-weight="bold" fill="#ffffff" text-anchor="middle">1443</text>
<text x="866.0" y="530.7" font-size="5.2" font-weight="bold" fill="#ffffff" text-anchor="middle">2807</text>
<text x="846.0" y="552.7" font-size="5.2" font-weight="bold" fill="#ffffff" text-anchor="middle">4872</text>
<text x="866.0" y="552.7" font-size="5.2" font-weight="bold" fill="#ffffff" text-anchor="middle">995</text>
<text x="846.0" y="574.8" font-size="5.2" font-weight="bold" fill="#ffffff" text-anchor="middle">1215</text>
<text x="866.0" y="574.8" font-size="5.2" font-weight="bold" fill="#ffffff" text-anchor="middle">0</text>
<text x="846.0" y="486.8" font-size="5.2" font-weight="bold" fill="#ffffff" text-anchor="middle">0</text>
<text x="856.0" y="486.8" font-size="5.2" font-weight="bold" fill="#ffffff" text-anchor="middle">:</text>
<text x="866.0" y="486.8" font-size="5.2" font-weight="bold" fill="#ffffff" text-anchor="middle">0</text>
<text x="856.0" y="596.8" font-size="5.2" font-weight="normal" fill="#23892b" text-anchor="middle">-2507</text>
<rect x="836.1" y="540" width="39.8" height="22" fill="#4a72d0" fill-opacity="0.38"/>
<rect x="905" y="474" width="2" height="154" fill="#a0a2b0"/>
<rect x="905" y="474" width="2" height="110" fill="#ff4a32"/>
<rect x="885.5" y="474.5" width="41" height="154" fill="none" stroke="#d6d8e0" stroke-width="1.2"/>
<text x="896.0" y="486.6" font-size="5.2" font-weight="bold" fill="#ffffff" text-anchor="middle">0</text>
<text x="916.0" y="486.6" font-size="5.2" font-weight="bold" fill="#d4443a" text-anchor="middle">1728</text>
<text x="896.0" y="508.7" font-size="5.2" font-weight="bold" fill="#ffffff" text-anchor="middle">451</text>
<text x="916.0" y="508.7" font-size="5.2" font-weight="bold" fill="#ffffff" text-anchor="middle">1427</text>
<text x="896.0" y="530.7" font-size="5.2" font-weight="bold" fill="#ffffff" text-anchor="middle">944</text>
<text x="916.0" y="530.7" font-size="5.2" font-weight="bold" fill="#d4443a" text-anchor="middle">1137</text>
<text x="896.0" y="552.7" font-size="5.2" font-weight="bold" fill="#ffffff" text-anchor="middle">0</text>
<text x="916.0" y="552.7" font-size="5.2" font-weight="bold" fill="#ffffff" text-anchor="middle">702</text>
<text x="896.0" y="574.8" font-size="5.2" font-weight="bold" fill="#ffffff" text-anchor="middle">1258</text>
<text x="916.0" y="574.8" font-size="5.2" font-weight="bold" fill="#ffffff" text-anchor="middle">1540</text>
<text x="896.0" y="596.8" font-size="5.2" font-weight="bold" fill="#ffffff" text-anchor="middle">3700</text>
<text x="916.0" y="596.8" font-size="5.2" font-weight="bold" fill="#ffffff" text-anchor="middle">1516</text>
<text x="896.0" y="618.9" font-size="5.2" font-weight="bold" fill="#ffffff" text-anchor="middle">621</text>
<text x="916.0" y="618.9" font-size="5.2" font-weight="bold" fill="#ffffff" text-anchor="middle">0</text>
<text x="896.0" y="464.8" font-size="5.2" font-weight="bold" fill="#ffffff" text-anchor="middle">0</text>
<text x="906.0" y="464.8" font-size="5.2" font-weight="bold" fill="#ffffff" text-anchor="middle">:</text>
<text x="916.0" y="464.8" font-size="5.2" font-weight="bold" fill="#ffffff" text-anchor="middle">2</text>
<text x="906.0" y="640.9" font-size="5.2" font-weight="normal" fill="#d4443a" text-anchor="middle">1076</text>
<rect x="886.1" y="584" width="39.8" height="22" fill="#4a72d0" fill-opacity="0.38"/>
<rect x="956" y="408" width="2" height="110" fill="#a0a2b0"/>
<rect x="956" y="452" width="2" height="66" fill="#24a024"/>
<rect x="936.5" y="408.5" width="41" height="110" fill="none" stroke="#d6d8e0" stroke-width="1.2"/>
<text x="947.0" y="420.5" font-size="5.2" font-weight="bold" fill="#ffffff" text-anchor="middle">0</text>
<text x="967.0" y="420.5" font-size="5.2" font-weight="bold" fill="#ffffff" text-anchor="middle">757</text>
<text x="947.0" y="442.5" font-size="5.2" font-weight="bold" fill="#23892b" text-anchor="middle">2373</text>
<text x="967.0" y="442.5" font-size="5.2" font-weight="bold" fill="#ffffff" text-anchor="middle">3144</text>
<text x="947.0" y="464.6" font-size="5.2" font-weight="bold" fill="#ffffff" text-anchor="middle">2314</text>
<text x="967.0" y="464.6" font-size="5.2" font-weight="bold" fill="#ffffff" text-anchor="middle">3879</text>
<text x="947.0" y="486.6" font-size="5.2" font-weight="bold" fill="#ffffff" text-anchor="middle">2585</text>
<text x="967.0" y="486.6" font-size="5.2" font-weight="bold" fill="#ffffff" text-anchor="middle">1607</text>
<text x="947.0" y="508.7" font-size="5.2" font-weight="bold" fill="#ffffff" text-anchor="middle">927</text>
<text x="967.0" y="508.7" font-size="5.2" font-weight="bold" fill="#ffffff" text-anchor="middle">0</text>
<text x="947.0" y="398.7" font-size="5.2" font-weight="bold" fill="#ffffff" text-anchor="middle">1</text>
<text x="957.0" y="398.7" font-size="5.2" font-weight="bold" fill="#ffffff" text-anchor="middle">:</text>
<text x="967.0" y="398.7" font-size="5.2" font-weight="bold" fill="#ffffff" text-anchor="middle">0</text>
<text x="957.0" y="530.7" font-size="5.2" font-weight="normal" fill="#d4443a" text-anchor="middle">1188</text>
<rect x="937.1" y="452" width="39.8" height="22" fill="#4a72d0" fill-opacity="0.38"/>
<rect x="1007" y="430" width="2" height="110" fill="#a0a2b0"/>
<rect x="1007" y="452" width="2" height="44" fill="#ff4a32"/>
<rect x="987.5" y="430.5" width="41" height="110" fill="none" stroke="#d6d8e0" stroke-width="1.2"/>
<text x="998.0" y="442.5" font-size="5.2" font-weight="bold" fill="#ffffff" text-anchor="middle">0</text>
<text x="1018.0" y="442.5" font-size="5.2" font-weight="bold" fill="#ffffff" text-anchor="middle">472</text>
<text x="998.0" y="464.6" font-size="5.2" font-weight="bold" fill="#ffffff" text-anchor="middle">281</text>
<text x="1018.0" y="464.6" font-size="5.2" font-weight="bold" fill="#d4443a" text-anchor="middle">946</text>
<text x="998.0" y="486.6" font-size="5.2" font-weight="bold" fill="#ffffff" text-anchor="middle">6</text>
<text x="1018.0" y="486.6" font-size="5.2" font-weight="bold" fill="#ffffff" text-anchor="middle">1353</text>
<text x="998.0" y="508.7" font-size="5.2" font-weight="bold" fill="#ffffff" text-anchor="middle">2498</text>
<text x="1018.0" y="508.7" font-size="5.2" font-weight="bold" fill="#ffffff" text-anchor="middle">2755</text>
<text x="998.0" y="530.7" font-size="5.2" font-weight="bold" fill="#ffffff" text-anchor="middle">1671</text>
<text x="1018.0" y="530.7" font-size="5.2" font-weight="bold" fill="#ffffff" text-anchor="middle">0</text>
<text x="998.0" y="420.7" font-size="5.2" font-weight="bold" fill="#ffffff" text-anchor="middle">0</text>
<text x="1008.0" y="420.7" font-size="5.2" font-weight="bold" fill="#ffffff" text-anchor="middle">:</text>
<text x="1018.0" y="420.7" font-size="5.2" font-weight="bold" fill="#ffffff" text-anchor="middle">1</text>
<text x="1008.0" y="552.7" font-size="5.2" font-weight="normal" fill="#d4443a" text-anchor="middle">1150</text>
<rect x="988.1" y="496" width="39.8" height="22" fill="#4a72d0" fill-opacity="0.38"/>
<rect x="1057" y="408" width="2" height="176" fill="#a0a2b0"/>
<rect x="1057" y="430" width="2" height="132" fill="#24a024"/>
<rect x="1037.5" y="408.5" width="41" height="176" fill="none" stroke="#d6d8e0" stroke-width="1.2"/>
<text x="1048.0" y="420.5" font-size="5.2" font-weight="bold" fill="#ffffff" text-anchor="middle">0</text>
<text x="1068.0" y="420.5" font-size="5.2" font-weight="bold" fill="#ffffff" text-anchor="middle">1</text>
<text x="1048.0" y="442.5" font-size="5.2" font-weight="bold" fill="#23892b" text-anchor="middle">682</text>
<text x="1068.0" y="442.5" font-size="5.2" font-weight="bold" fill="#ffffff" text-anchor="middle">3444</text>
<text x="1048.0" y="464.6" font-size="5.2" font-weight="bold" fill="#ffffff" text-anchor="middle">2244</text>
<text x="1068.0" y="464.6" font-size="5.2" font-weight="bold" fill="#ffffff" text-anchor="middle">446</text>
<text x="1048.0" y="486.6" font-size="5.2" font-weight="bold" fill="#ffffff" text-anchor="middle">1133</text>
<text x="1068.0" y="486.6" font-size="5.2" font-weight="bold" fill="#ffffff" text-anchor="middle">707</text>
<text x="1048.0" y="508.7" font-size="5.2" font-weight="bold" fill="#ffffff" text-anchor="middle">657</text>
<text x="1068.0" y="508.7" font-size="5.2" font-weight="bold" fill="#ffffff" text-anchor="middle">391</text>
<text x="1048.0" y="530.7" font-size="5.2" font-weight="bold" fill="#ffffff" text-anchor="middle">615</text>
<text x="1068.0" y="530.7" font-size="5.2" font-weight="bold" fill="#ffffff" text-anchor="middle">470</text>
<text x="1048.0" y="552.7" font-size="5.2" font-weight="bold" fill="#23892b" text-anchor="middle">1728</text>
<text x="1068.0" y="552.7" font-size="5.2" font-weight="bold" fill="#ffffff" text-anchor="middle">1152</text>
<text x="1048.0" y="574.8" font-size="5.2" font-weight="bold" fill="#ffffff" text-anchor="middle">1247</text>
<text x="1068.0" y="574.8" font-size="5.2" font-weight="bold" fill="#ffffff" text-anchor="middle">0</text>
<text x="1048.0" y="398.7" font-size="5.2" font-weight="bold" fill="#ffffff" text-anchor="middle">2</text>
<text x="1058.0" y="398.7" font-size="5.2" font-weight="bold" fill="#ffffff" text-anchor="middle">:</text>
<text x="1068.0" y="398.7" font-size="5.2" font-weight="bold" fill="#ffffff" text-anchor="middle">0</text>
<text x="1058.0" y="596.8" font-size="5.2" font-weight="normal" fill="#23892b" text-anchor="middle">-1705</text>
<rect x="1038.1" y="430" width="39.8" height="22" fill="#4a72d0" fill-opacity="0.38"/>
<rect x="1108" y="540" width="2" height="88" fill="#a0a2b0"/>
<rect x="1108" y="562" width="2" height="22" fill="#ffffff"/>
<rect x="1088.5" y="540.5" width="41" height="88" fill="none" stroke="#d6d8e0" stroke-width="1.2"/>
<text x="1099.0" y="552.7" font-size="5.2" font-weight="bold" fill="#ffffff" text-anchor="middle">431</text>
<text x="1119.0" y="552.7" font-size="5.2" font-weight="bold" fill="#ffffff" text-anchor="middle">3422</text>
<text x="1099.0" y="574.8" font-size="5.2" font-weight="bold" fill="#ffffff" text-anchor="middle">3470</text>
<text x="1119.0" y="574.8" font-size="5.2" font-weight="bold" fill="#ffffff" text-anchor="middle">2499</text>
<text x="1099.0" y="596.8" font-size="5.2" font-weight="bold" fill="#ffffff" text-anchor="middle">2622</text>
<text x="1119.0" y="596.8" font-size="5.2" font-weight="bold" fill="#ffffff" text-anchor="middle">843</text>
<text x="1099.0" y="618.9" font-size="5.2" font-weight="bold" fill="#ffffff" text-anchor="middle">465</text>
<text x="1119.0" y="618.9" font-size="5.2" font-weight="bold" fill="#ffffff" text-anchor="middle">0</text>
<text x="1099.0" y="530.9" font-size="5.2" font-weight="bold" fill="#ffffff" text-anchor="middle">0</text>
<text x="1109.0" y="530.9" font-size="5.2" font-weight="bold" fill="#ffffff" text-anchor="middle">:</text>
<text x="1119.0" y="530.9" font-size="5.2" font-weight="bold" fill="#ffffff" text-anchor="middle">0</text>
<text x="1109.0" y="640.9" font-size="5.2" font-weight="normal" fill="#23892b" text-anchor="middle">-224</text>
<rect x="1089.1" y="562" width="39.8" height="22" fill="#4a72d0" fill-opacity="0.38"/>
<rect x="1158" y="540" width="2" height="88" fill="#a0a2b0"/>
<rect x="1158" y="540" width="2" height="44" fill="#ff4a32"/>
<rect x="1138.5" y="540.5" width="41" height="88" fill="none" stroke="#d6d8e0" stroke-width="1.2"/>
<text x="1149.0" y="552.7" font-size="5.2" font-weight="bold" fill="#ffffff" text-anchor="middle">0</text>
<text x="1169.0" y="552.7" font-size="5.2" font-weight="bold" fill="#ffffff" text-anchor="middle">107</text>
<text x="1149.0" y="574.8" font-size="5.2" font-weight="bold" fill="#23892b" text-anchor="middle">1702</text>
<text x="1169.0" y="574.8" font-size="5.2" font-weight="bold" fill="#ffffff" text-anchor="middle">3317</text>
<text x="1149.0" y="596.8" font-size="5.2" font-weight="bold" fill="#ffffff" text-anchor="middle">2264</text>
<text x="1169.0" y="596.8" font-size="5.2" font-weight="bold" fill="#d4443a" text-anchor="middle">406</text>
<text x="1149.0" y="618.9" font-size="5.2" font-weight="bold" fill="#ffffff" text-anchor="middle">12</text>
<text x="1169.0" y="618.9" font-size="5.2" font-weight="bold" fill="#ffffff" text-anchor="middle">0</text>
<text x="1149.0" y="530.9" font-size="5.2" font-weight="bold" fill="#ffffff" text-anchor="middle">1</text>
<text x="1159.0" y="530.9" font-size="5.2" font-weight="bold" fill="#ffffff" text-anchor="middle">:</text>
<text x="1169.0" y="530.9" font-size="5.2" font-weight="bold" fill="#ffffff" text-anchor="middle">1</text>
<text x="1159.0" y="640.9" font-size="5.2" font-weight="normal" fill="#23892b" text-anchor="middle">-148</text>
<rect x="1139.1" y="562" width="39.8" height="22" fill="#4a72d0" fill-opacity="0.38"/>
<rect x="1209" y="518" width="2" height="110" fill="#a0a2b0"/>
<rect x="1209" y="518" width="2" height="44" fill="#ff4a32"/>
<rect x="1189.5" y="518.5" width="41" height="110" fill="none" stroke="#d6d8e0" stroke-width="1.2"/>
<text x="1200.0" y="530.7" font-size="5.2" font-weight="bold" fill="#ffffff" text-anchor="middle">0</text>
<text x="1220.0" y="530.7" font-size="5.2" font-weight="bold" fill="#ffffff" text-anchor="middle">1341</text>
<text x="1200.0" y="552.7" font-size="5.2" font-weight="bold" fill="#ffffff" text-anchor="middle">791</text>
<text x="1220.0" y="552.7" font-size="5.2" font-weight="bold" fill="#ffffff" text-anchor="middle">1139</text>
<text x="1200.0" y="574.8" font-size="5.2" font-weight="bold" fill="#ffffff" text-anchor="middle">1141</text>
<text x="1220.0" y="574.8" font-size="5.2" font-weight="bold" fill="#ffffff" text-anchor="middle">636</text>
<text x="1200.0" y="596.8" font-size="5.2" font-weight="bold" fill="#ffffff" text-anchor="middle">1103</text>
<text x="1220.0" y="596.8" font-size="5.2" font-weight="bold" fill="#d4443a" text-anchor="middle">381</text>
<text x="1200.0" y="618.9" font-size="5.2" font-weight="bold" fill="#ffffff" text-anchor="middle">9</text>
<text x="1220.0" y="618.9" font-size="5.2" font-weight="bold" fill="#ffffff" text-anchor="middle">0</text>
<text x="1200.0" y="508.9" font-size="5.2" font-weight="bold" fill="#ffffff" text-anchor="middle">0</text>
<text x="1210.0" y="508.9" font-size="5.2" font-weight="bold" fill="#ffffff" text-anchor="middle">:</text>
<text x="1220.0" y="508.9" font-size="5.2" font-weight="bold" fill="#ffffff" text-anchor="middle">1</text>
<text x="1210.0" y="640.9" font-size="5.2" font-weight="normal" fill="#d4443a" text-anchor="middle">453</text>
<rect x="1190.1" y="540" width="39.8" height="22" fill="#4a72d0" fill-opacity="0.38"/>
<rect x="1260" y="496" width="2" height="88" fill="#a0a2b0"/>
<rect x="1260" y="496" width="2" height="44" fill="#ff4a32"/>
<rect x="1240.5" y="496.5" width="41" height="88" fill="none" stroke="#d6d8e0" stroke-width="1.2"/>
<text x="1251.0" y="508.7" font-size="5.2" font-weight="bold" fill="#ffffff" text-anchor="middle">0</text>
<text x="1271.0" y="508.7" font-size="5.2" font-weight="bold" fill="#ffffff" text-anchor="middle">590</text>
<text x="1251.0" y="530.7" font-size="5.2" font-weight="bold" fill="#23892b" text-anchor="middle">1809</text>
<text x="1271.0" y="530.7" font-size="5.2" font-weight="bold" fill="#ffffff" text-anchor="middle">3207</text>
<text x="1251.0" y="552.7" font-size="5.2" font-weight="bold" fill="#ffffff" text-anchor="middle">1265</text>
<text x="1271.0" y="552.7" font-size="5.2" font-weight="bold" fill="#d4443a" text-anchor="middle">623</text>
<text x="1251.0" y="574.8" font-size="5.2" font-weight="bold" fill="#ffffff" text-anchor="middle">147</text>
<text x="1271.0" y="574.8" font-size="5.2" font-weight="bold" fill="#ffffff" text-anchor="middle">0</text>
<text x="1251.0" y="486.8" font-size="5.2" font-weight="bold" fill="#ffffff" text-anchor="middle">1</text>
<text x="1261.0" y="486.8" font-size="5.2" font-weight="bold" fill="#ffffff" text-anchor="middle">:</text>
<text x="1271.0" y="486.8" font-size="5.2" font-weight="bold" fill="#ffffff" text-anchor="middle">1</text>
<text x="1261.0" y="596.8" font-size="5.2" font-weight="normal" fill="#d4443a" text-anchor="middle">1199</text>
<rect x="1241.1" y="518" width="39.8" height="22" fill="#4a72d0" fill-opacity="0.38"/>
<rect x="1310" y="474" width="2" height="66" fill="#a0a2b0"/>
<rect x="1310" y="474" width="2" height="44" fill="#ff4a32"/>
<rect x="1290.5" y="474.5" width="41" height="66" fill="none" stroke="#d6d8e0" stroke-width="1.2"/>
<text x="1301.0" y="486.6" font-size="5.2" font-weight="bold" fill="#ffffff" text-anchor="middle">0</text>
<text x="1321.0" y="486.6" font-size="5.2" font-weight="bold" fill="#ffffff" text-anchor="middle">1113</text>
<text x="1301.0" y="508.7" font-size="5.2" font-weight="bold" fill="#ffffff" text-anchor="middle">1969</text>
<text x="1321.0" y="508.7" font-size="5.2" font-weight="bold" fill="#ffffff" text-anchor="middle">2612</text>
<text x="1301.0" y="530.7" font-size="5.2" font-weight="bold" fill="#ffffff" text-anchor="middle">1416</text>
<text x="1321.0" y="530.7" font-size="5.2" font-weight="bold" fill="#ffffff" text-anchor="middle">0</text>
<text x="1301.0" y="464.8" font-size="5.2" font-weight="bold" fill="#ffffff" text-anchor="middle">0</text>
<text x="1311.0" y="464.8" font-size="5.2" font-weight="bold" fill="#ffffff" text-anchor="middle">:</text>
<text x="1321.0" y="464.8" font-size="5.2" font-weight="bold" fill="#ffffff" text-anchor="middle">0</text>
<text x="1311.0" y="552.7" font-size="5.2" font-weight="normal" fill="#d4443a" text-anchor="middle">340</text>
<rect x="1291.1" y="496" width="39.8" height="22" fill="#4a72d0" fill-opacity="0.38"/>
<rect x="1361" y="386" width="2" height="132" fill="#a0a2b0"/>
<rect x="1361" y="408" width="2" height="110" fill="#ff4a32"/>
<rect x="1341.5" y="386.5" width="41" height="132" fill="none" stroke="#d6d8e0" stroke-width="1.2"/>
<text x="1352.0" y="398.5" font-size="5.2" font-weight="bold" fill="#ffffff" text-anchor="middle">0</text>
<text x="1372.0" y="398.5" font-size="5.2" font-weight="bold" fill="#ffffff" text-anchor="middle">2591</text>
<text x="1352.0" y="420.5" font-size="5.2" font-weight="bold" fill="#ffffff" text-anchor="middle">1974</text>
<text x="1372.0" y="420.5" font-size="5.2" font-weight="bold" fill="#d4443a" text-anchor="middle">5367</text>
<text x="1352.0" y="442.5" font-size="5.2" font-weight="bold" fill="#ffffff" text-anchor="middle">1297</text>
<text x="1372.0" y="442.5" font-size="5.2" font-weight="bold" fill="#ffffff" text-anchor="middle">4341</text>
<text x="1352.0" y="464.6" font-size="5.2" font-weight="bold" fill="#ffffff" text-anchor="middle">3161</text>
<text x="1372.0" y="464.6" font-size="5.2" font-weight="bold" fill="#d4443a" text-anchor="middle">2026</text>
<text x="1352.0" y="486.6" font-size="5.2" font-weight="bold" fill="#ffffff" text-anchor="middle">688</text>
<text x="1372.0" y="486.6" font-size="5.2" font-weight="bold" fill="#d4443a" text-anchor="middle">1980</text>
<text x="1352.0" y="508.7" font-size="5.2" font-weight="bold" fill="#ffffff" text-anchor="middle">348</text>
<text x="1372.0" y="508.7" font-size="5.2" font-weight="bold" fill="#ffffff" text-anchor="middle">0</text>
<text x="1352.0" y="376.6" font-size="5.2" font-weight="bold" fill="#ffffff" text-anchor="middle">0</text>
<text x="1362.0" y="376.6" font-size="5.2" font-weight="bold" fill="#ffffff" text-anchor="middle">:</text>
<text x="1372.0" y="376.6" font-size="5.2" font-weight="bold" fill="#ffffff" text-anchor="middle">3</text>
<text x="1362.0" y="530.7" font-size="5.2" font-weight="normal" fill="#d4443a" text-anchor="middle">8917</text>
<rect x="1342.1" y="408" width="39.8" height="22" fill="#4a72d0" fill-opacity="0.38"/>
<rect x="1412" y="188" width="2" height="242" fill="#a0a2b0"/>
<rect x="1412" y="254" width="2" height="176" fill="#ff4a32"/>
<rect x="1392.5" y="188.5" width="41" height="242" fill="none" stroke="#d6d8e0" stroke-width="1.2"/>
<text x="1403.0" y="200.1" font-size="5.2" font-weight="bold" fill="#ffffff" text-anchor="middle">0</text>
<text x="1423.0" y="200.1" font-size="5.2" font-weight="bold" fill="#ffffff" text-anchor="middle">2514</text>
<text x="1403.0" y="222.1" font-size="5.2" font-weight="bold" fill="#ffffff" text-anchor="middle">2525</text>
<text x="1423.0" y="222.1" font-size="5.2" font-weight="bold" fill="#ffffff" text-anchor="middle">1684</text>
<text x="1403.0" y="244.2" font-size="5.2" font-weight="bold" fill="#ffffff" text-anchor="middle">3510</text>
<text x="1423.0" y="244.2" font-size="5.2" font-weight="bold" fill="#ffffff" text-anchor="middle">2894</text>
<text x="1403.0" y="266.2" font-size="5.2" font-weight="bold" fill="#ffffff" text-anchor="middle">4813</text>
<text x="1423.0" y="266.2" font-size="5.2" font-weight="bold" fill="#ffffff" text-anchor="middle">11109</text>
<text x="1403.0" y="288.3" font-size="5.2" font-weight="bold" fill="#ffffff" text-anchor="middle">10630</text>
<text x="1423.0" y="288.3" font-size="5.2" font-weight="bold" fill="#ffffff" text-anchor="middle">6010</text>
<text x="1403.0" y="310.3" font-size="5.2" font-weight="bold" fill="#ffffff" text-anchor="middle">2008</text>
<text x="1423.0" y="310.3" font-size="5.2" font-weight="bold" fill="#ffffff" text-anchor="middle">3524</text>
<text x="1403.0" y="332.3" font-size="5.2" font-weight="bold" fill="#ffffff" text-anchor="middle">1935</text>
<text x="1423.0" y="332.3" font-size="5.2" font-weight="bold" fill="#ffffff" text-anchor="middle">1815</text>
<text x="1403.0" y="354.4" font-size="5.2" font-weight="bold" fill="#ffffff" text-anchor="middle">755</text>
<text x="1423.0" y="354.4" font-size="5.2" font-weight="bold" fill="#ffffff" text-anchor="middle">2582</text>
<text x="1403.0" y="376.4" font-size="5.2" font-weight="bold" fill="#ffffff" text-anchor="middle">2832</text>
<text x="1423.0" y="376.4" font-size="5.2" font-weight="bold" fill="#d4443a" text-anchor="middle">2225</text>
<text x="1403.0" y="398.5" font-size="5.2" font-weight="bold" fill="#ffffff" text-anchor="middle">65</text>
<text x="1423.0" y="398.5" font-size="5.2" font-weight="bold" fill="#d4443a" text-anchor="middle">1460</text>
<text x="1403.0" y="420.5" font-size="5.2" font-weight="bold" fill="#ffffff" text-anchor="middle">417</text>
<text x="1423.0" y="420.5" font-size="5.2" font-weight="bold" fill="#ffffff" text-anchor="middle">0</text>
<text x="1403.0" y="178.3" font-size="5.2" font-weight="bold" fill="#ffffff" text-anchor="middle">0</text>
<text x="1413.0" y="178.3" font-size="5.2" font-weight="bold" fill="#ffffff" text-anchor="middle">:</text>
<text x="1423.0" y="178.3" font-size="5.2" font-weight="bold" fill="#ffffff" text-anchor="middle">2</text>
<text x="1413.0" y="442.5" font-size="5.2" font-weight="normal" fill="#d4443a" text-anchor="middle">5565</text>
<rect x="1393.1" y="276" width="39.8" height="22" fill="#4a72d0" fill-opacity="0.38"/>
<rect x="1462" y="188" width="2" height="132" fill="#a0a2b0"/>
<rect x="1462" y="232" width="2" height="66" fill="#24a024"/>
<rect x="1442.5" y="188.5" width="41" height="132" fill="none" stroke="#d6d8e0" stroke-width="1.2"/>
<text x="1453.0" y="200.1" font-size="5.2" font-weight="bold" fill="#ffffff" text-anchor="middle">0</text>
<text x="1473.0" y="200.1" font-size="5.2" font-weight="bold" fill="#ffffff" text-anchor="middle">611</text>
<text x="1453.0" y="222.1" font-size="5.2" font-weight="bold" fill="#ffffff" text-anchor="middle">692</text>
<text x="1473.0" y="222.1" font-size="5.2" font-weight="bold" fill="#ffffff" text-anchor="middle">3659</text>
<text x="1453.0" y="244.2" font-size="5.2" font-weight="bold" fill="#ffffff" text-anchor="middle">5668</text>
<text x="1473.0" y="244.2" font-size="5.2" font-weight="bold" fill="#ffffff" text-anchor="middle">2908</text>
<text x="1453.0" y="266.2" font-size="5.2" font-weight="bold" fill="#ffffff" text-anchor="middle">2403</text>
<text x="1473.0" y="266.2" font-size="5.2" font-weight="bold" fill="#ffffff" text-anchor="middle">2460</text>
<text x="1453.0" y="288.3" font-size="5.2" font-weight="bold" fill="#ffffff" text-anchor="middle">5344</text>
<text x="1473.0" y="288.3" font-size="5.2" font-weight="bold" fill="#d4443a" text-anchor="middle">2290</text>
<text x="1453.0" y="310.3" font-size="5.2" font-weight="bold" fill="#ffffff" text-anchor="middle">1088</text>
<text x="1473.0" y="310.3" font-size="5.2" font-weight="bold" fill="#ffffff" text-anchor="middle">0</text>
<text x="1453.0" y="178.3" font-size="5.2" font-weight="bold" fill="#ffffff" text-anchor="middle">0</text>
<text x="1463.0" y="178.3" font-size="5.2" font-weight="bold" fill="#ffffff" text-anchor="middle">:</text>
<text x="1473.0" y="178.3" font-size="5.2" font-weight="bold" fill="#ffffff" text-anchor="middle">1</text>
<text x="1463.0" y="332.3" font-size="5.2" font-weight="normal" fill="#23892b" text-anchor="middle">-2178</text>
<rect x="1443.1" y="276" width="39.8" height="22" fill="#4a72d0" fill-opacity="0.38"/>
<rect x="1513" y="276" width="2" height="88" fill="#a0a2b0"/>
<rect x="1513" y="276" width="2" height="44" fill="#24a024"/>
<rect x="1493.5" y="276.5" width="41" height="88" fill="none" stroke="#d6d8e0" stroke-width="1.2"/>
<text x="1504.0" y="288.3" font-size="5.2" font-weight="bold" fill="#ffffff" text-anchor="middle">1350</text>
<text x="1524.0" y="288.3" font-size="5.2" font-weight="bold" fill="#ffffff" text-anchor="middle">3384</text>
<text x="1504.0" y="310.3" font-size="5.2" font-weight="bold" fill="#ffffff" text-anchor="middle">6363</text>
<text x="1524.0" y="310.3" font-size="5.2" font-weight="bold" fill="#ffffff" text-anchor="middle">6357</text>
<text x="1504.0" y="332.3" font-size="5.2" font-weight="bold" fill="#ffffff" text-anchor="middle">5522</text>
<text x="1524.0" y="332.3" font-size="5.2" font-weight="bold" fill="#ffffff" text-anchor="middle">2161</text>
<text x="1504.0" y="354.4" font-size="5.2" font-weight="bold" fill="#ffffff" text-anchor="middle">994</text>
<text x="1524.0" y="354.4" font-size="5.2" font-weight="bold" fill="#ffffff" text-anchor="middle">0</text>
<text x="1504.0" y="266.4" font-size="5.2" font-weight="bold" fill="#ffffff" text-anchor="middle">0</text>
<text x="1514.0" y="266.4" font-size="5.2" font-weight="bold" fill="#ffffff" text-anchor="middle">:</text>
<text x="1524.0" y="266.4" font-size="5.2" font-weight="bold" fill="#ffffff" text-anchor="middle">0</text>
<text x="1514.0" y="376.4" font-size="5.2" font-weight="normal" fill="#23892b" text-anchor="middle">-2327</text>
<rect x="1494.1" y="298" width="39.8" height="22" fill="#4a72d0" fill-opacity="0.38"/>
<rect x="1564" y="210" width="2" height="110" fill="#a0a2b0"/>
<rect x="1564" y="254" width="2" height="66" fill="#ff4a32"/>
<rect x="1544.5" y="210.5" width="41" height="110" fill="none" stroke="#d6d8e0" stroke-width="1.2"/>
<text x="1555.0" y="222.1" font-size="5.2" font-weight="bold" fill="#ffffff" text-anchor="middle">0</text>
<text x="1575.0" y="222.1" font-size="5.2" font-weight="bold" fill="#ffffff" text-anchor="middle">2189</text>
<text x="1555.0" y="244.2" font-size="5.2" font-weight="bold" fill="#ffffff" text-anchor="middle">5052</text>
<text x="1575.0" y="244.2" font-size="5.2" font-weight="bold" fill="#ffffff" text-anchor="middle">7520</text>
<text x="1555.0" y="266.2" font-size="5.2" font-weight="bold" fill="#ffffff" text-anchor="middle">4696</text>
<text x="1575.0" y="266.2" font-size="5.2" font-weight="bold" fill="#ffffff" text-anchor="middle">5542</text>
<text x="1555.0" y="288.3" font-size="5.2" font-weight="bold" fill="#ffffff" text-anchor="middle">5241</text>
<text x="1575.0" y="288.3" font-size="5.2" font-weight="bold" fill="#ffffff" text-anchor="middle">6998</text>
<text x="1555.0" y="310.3" font-size="5.2" font-weight="bold" fill="#ffffff" text-anchor="middle">3350</text>
<text x="1575.0" y="310.3" font-size="5.2" font-weight="bold" fill="#ffffff" text-anchor="middle">0</text>
<text x="1555.0" y="200.3" font-size="5.2" font-weight="bold" fill="#ffffff" text-anchor="middle">0</text>
<text x="1565.0" y="200.3" font-size="5.2" font-weight="bold" fill="#ffffff" text-anchor="middle">:</text>
<text x="1575.0" y="200.3" font-size="5.2" font-weight="bold" fill="#ffffff" text-anchor="middle">0</text>
<text x="1565.0" y="332.3" font-size="5.2" font-weight="normal" fill="#d4443a" text-anchor="middle">3910</text>
<rect x="1545.1" y="232" width="39.8" height="22" fill="#4a72d0" fill-opacity="0.38"/>
</g>
<rect x="431.5" y="650.8" width="1480.5" height="65.8" fill="#c80a02" fill-opacity="0.24"/>
<rect x="1898.7" y="190.2" width="13.3" height="17.7" fill="#27962a"/>
<text x="1902" y="200.95" font-size="8.2" font-weight="bold" fill="#f0f0f0" text-anchor="end">3125</text>
<rect x="1866.6" y="212.24" width="13.4" height="17.7" fill="#a8322c"/>
<rect x="1880.0" y="212.24" width="32.0" height="17.7" fill="#1e6a1a"/>
<text x="1902" y="222.99" font-size="8.2" font-weight="bold" fill="#f0f0f0" text-anchor="end">10659</text>
<rect x="1794.6" y="234.28" width="60.6" height="17.7" fill="#a8322c"/>
<rect x="1855.2" y="234.28" width="56.8" height="17.7" fill="#1e6a1a"/>
<text x="1902" y="245.03" font-size="8.2" font-weight="bold" fill="#f0f0f0" text-anchor="end">27552</text>
<rect x="1779.8" y="256.32" width="50.9" height="17.7" fill="#a8322c"/>
<rect x="1830.7" y="256.32" width="81.3" height="17.7" fill="#1e6a1a"/>
<text x="1902" y="267.07" font-size="8.2" font-weight="bold" fill="#f0f0f0" text-anchor="end">31023</text>
<rect x="1732.0" y="278.36" width="96.0" height="17.7" fill="#e8453a"/>
<rect x="1828.0" y="278.36" width="84.0" height="17.7" fill="#27962a"/>
<text x="1902" y="289.11" font-size="8.2" font-weight="bold" fill="#f0f0f0" text-anchor="end">42246</text>
<rect x="1811.9" y="300.4" width="57.8" height="17.7" fill="#a8322c"/>
<rect x="1869.7" y="300.4" width="42.3" height="17.7" fill="#1e6a1a"/>
<text x="1902" y="311.15" font-size="8.2" font-weight="bold" fill="#f0f0f0" text-anchor="end">23490</text>
<rect x="1863.3" y="322.44" width="32.0" height="17.7" fill="#a8322c"/>
<rect x="1895.3" y="322.44" width="16.7" height="17.7" fill="#1e6a1a"/>
<text x="1902" y="333.19" font-size="8.2" font-weight="bold" fill="#f0f0f0" text-anchor="end">11433</text>
<rect x="1893.5" y="344.48" width="7.3" height="17.7" fill="#a8322c"/>
<rect x="1900.8" y="344.48" width="11.2" height="17.7" fill="#1e6a1a"/>
<text x="1902" y="355.23" font-size="8.2" font-weight="bold" fill="#f0f0f0" text-anchor="end">4341</text>
<rect x="1890.5" y="366.52" width="12.0" height="17.7" fill="#a8322c"/>
<rect x="1902.5" y="366.52" width="9.5" height="17.7" fill="#1e6a1a"/>
<text x="1902" y="377.27" font-size="8.2" font-weight="bold" fill="#f0f0f0" text-anchor="end">5057</text>
<rect x="1894.4" y="388.56" width="0.3" height="17.7" fill="#a8322c"/>
<rect x="1894.7" y="388.56" width="17.3" height="17.7" fill="#1e6a1a"/>
<text x="1902" y="399.31" font-size="8.2" font-weight="bold" fill="#f0f0f0" text-anchor="end">4124</text>
<rect x="1866.5" y="410.6" width="10.3" height="17.7" fill="#a8322c"/>
<rect x="1876.8" y="410.6" width="35.2" height="17.7" fill="#1e6a1a"/>
<text x="1902" y="421.35" font-size="8.2" font-weight="bold" fill="#f0f0f0" text-anchor="end">10674</text>
<rect x="1809.8" y="432.64" width="33.8" height="17.7" fill="#a8322c"/>
<rect x="1843.6" y="432.64" width="68.4" height="17.7" fill="#1e6a1a"/>
<text x="1902" y="443.39" font-size="8.2" font-weight="bold" fill="#f0f0f0" text-anchor="end">23994</text>
<rect x="1786.4" y="454.68" width="61.4" height="17.7" fill="#a8322c"/>
<rect x="1847.8" y="454.68" width="64.2" height="17.7" fill="#1e6a1a"/>
<text x="1902" y="465.43" font-size="8.2" font-weight="bold" fill="#f0f0f0" text-anchor="end">29467</text>
<rect x="1811.2" y="476.72" width="47.0" height="17.7" fill="#a8322c"/>
<rect x="1858.2" y="476.72" width="53.8" height="17.7" fill="#1e6a1a"/>
<text x="1902" y="487.47" font-size="8.2" font-weight="bold" fill="#f0f0f0" text-anchor="end">23658</text>
<rect x="1804.6" y="498.76" width="52.9" height="17.7" fill="#a8322c"/>
<rect x="1857.5" y="498.76" width="54.5" height="17.7" fill="#1e6a1a"/>
<text x="1902" y="509.51" font-size="8.2" font-weight="bold" fill="#f0f0f0" text-anchor="end">25211</text>
<rect x="1791.6" y="520.8" width="59.7" height="17.7" fill="#a8322c"/>
<rect x="1851.3" y="520.8" width="60.7" height="17.7" fill="#1e6a1a"/>
<text x="1902" y="531.55" font-size="8.2" font-weight="bold" fill="#f0f0f0" text-anchor="end">28263</text>
<rect x="1773.3" y="542.84" width="67.6" height="17.7" fill="#a8322c"/>
<rect x="1840.9" y="542.84" width="71.1" height="17.7" fill="#1e6a1a"/>
<text x="1902" y="553.59" font-size="8.2" font-weight="bold" fill="#f0f0f0" text-anchor="end">32556</text>
<rect x="1811.9" y="564.88" width="59.4" height="17.7" fill="#e8453a"/>
<rect x="1871.3" y="564.88" width="40.7" height="17.7" fill="#27962a"/>
<text x="1902" y="575.63" font-size="8.2" font-weight="bold" fill="#f0f0f0" text-anchor="end">23492</text>
<rect x="1838.9" y="586.92" width="44.1" height="17.7" fill="#ff3a1a" fill-opacity="0.27"/>
<rect x="1883.0" y="586.92" width="29.0" height="17.7" fill="#526122" fill-opacity="0.66"/>
<text x="1902" y="597.67" font-size="8.2" font-weight="bold" fill="#f0f0f0" text-anchor="end">17162</text>
<rect x="1860.4" y="608.96" width="19.4" height="17.7" fill="#ff3a1a" fill-opacity="0.27"/>
<rect x="1879.8" y="608.96" width="32.2" height="17.7" fill="#526122" fill-opacity="0.66"/>
<text x="1902" y="619.71" font-size="8.2" font-weight="bold" fill="#f0f0f0" text-anchor="end">12099</text>
<rect x="1805.7" y="631.0" width="44.3" height="17.7" fill="#ff3a1a" fill-opacity="0.27"/>
<rect x="1850.0" y="631.0" width="62.0" height="17.7" fill="#526122" fill-opacity="0.66"/>
<text x="1902" y="641.75" font-size="8.2" font-weight="bold" fill="#f0f0f0" text-anchor="end">24943</text>
<rect x="1808.9" y="653.04" width="55.6" height="17.7" fill="#ff3a1a" fill-opacity="0.27"/>
<rect x="1864.5" y="653.04" width="47.5" height="17.7" fill="#526122" fill-opacity="0.66"/>
<text x="1902" y="663.79" font-size="8.2" font-weight="bold" fill="#f0f0f0" text-anchor="end">24197</text>
<rect x="1829.5" y="675.08" width="43.5" height="17.7" fill="#ff3a1a" fill-opacity="0.27"/>
<rect x="1873.0" y="675.08" width="39.0" height="17.7" fill="#526122" fill-opacity="0.66"/>
<text x="1902" y="685.83" font-size="8.2" font-weight="bold" fill="#f0f0f0" text-anchor="end">19361</text>
<rect x="1855.7" y="697.12" width="34.9" height="17.7" fill="#ff3a1a" fill-opacity="0.27"/>
<rect x="1890.6" y="697.12" width="21.4" height="17.7" fill="#526122" fill-opacity="0.66"/>
<text x="1902" y="707.87" font-size="8.2" font-weight="bold" fill="#f0f0f0" text-anchor="end">13210</text>
<rect x="1879.0" y="719.16" width="17.0" height="17.7" fill="#ff3a1a" fill-opacity="0.27"/>
<rect x="1896.0" y="719.16" width="16.0" height="17.7" fill="#526122" fill-opacity="0.66"/>
<text x="1902" y="729.91" font-size="8.2" font-weight="bold" fill="#f0f0f0" text-anchor="end">7734</text>
<rect x="1885.0" y="741.2" width="15.5" height="17.7" fill="#ff3a1a" fill-opacity="0.27"/>
<rect x="1900.5" y="741.2" width="11.5" height="17.7" fill="#526122" fill-opacity="0.66"/>
<text x="1902" y="751.95" font-size="8.2" font-weight="bold" fill="#f0f0f0" text-anchor="end">6329</text>
<rect x="1898.7" y="763.24" width="13.3" height="17.7" fill="#ff3a1a" fill-opacity="0.27"/>
<text x="1902" y="773.99" font-size="8.2" font-weight="bold" fill="#f0f0f0" text-anchor="end">3132</text>
<rect x="1871" y="190.2" width="8.4" height="17.7" fill="#5577cc"/><text x="1875.2" y="200.6" font-size="4.6" font-weight="bold" fill="#fff" text-anchor="middle">VAH</text>
<rect x="1723" y="278.36" width="9" height="17.7" fill="#d4b060"/><text x="1727.5" y="288.8" font-size="4.6" font-weight="bold" fill="#fff" text-anchor="middle">POC</text>
<rect x="1804" y="564.9" width="8" height="17.7" fill="#c64fcf"/><text x="1808" y="575.4" font-size="4.6" font-weight="bold" fill="#fff" text-anchor="middle">VAL</text>
<line x1="8" y1="882.5" x2="1912" y2="882.5" stroke="#363a52" stroke-width="1"/>
<line x1="8" y1="905.5" x2="1912" y2="905.5" stroke="#2c3048" stroke-width="1"/>
<line x1="960.5" y1="883" x2="960.5" y2="905" stroke="#363a52" stroke-width="1"/>
<text x="94.0" y="920" font-size="12" fill="#5f6378" stroke="#5f6378" stroke-width="0.35" text-anchor="middle">10:35</text>
<text x="196.0" y="920" font-size="12" fill="#5f6378" stroke="#5f6378" stroke-width="0.35" text-anchor="middle">10:45</text>
<text x="297.0" y="920" font-size="12" fill="#5f6378" stroke="#5f6378" stroke-width="0.35" text-anchor="middle">10:55</text>
<text x="398.0" y="920" font-size="12" fill="#5f6378" stroke="#5f6378" stroke-width="0.35" text-anchor="middle">11:05</text>
<text x="499.0" y="920" font-size="12" fill="#5f6378" stroke="#5f6378" stroke-width="0.35" text-anchor="middle">11:15</text>
<text x="601.0" y="920" font-size="12" fill="#5f6378" stroke="#5f6378" stroke-width="0.35" text-anchor="middle">11:25</text>
<text x="702.0" y="920" font-size="12" fill="#5f6378" stroke="#5f6378" stroke-width="0.35" text-anchor="middle">13:35</text>
<text x="803.0" y="920" font-size="12" fill="#5f6378" stroke="#5f6378" stroke-width="0.35" text-anchor="middle">13:45</text>
<text x="904.0" y="920" font-size="12" fill="#5f6378" stroke="#5f6378" stroke-width="0.35" text-anchor="middle">13:55</text>
<text x="1006.0" y="920" font-size="12" fill="#5f6378" stroke="#5f6378" stroke-width="0.35" text-anchor="middle">14:05</text>
<text x="1107.0" y="920" font-size="12" fill="#5f6378" stroke="#5f6378" stroke-width="0.35" text-anchor="middle">14:15</text>
<text x="1208.0" y="920" font-size="12" fill="#5f6378" stroke="#5f6378" stroke-width="0.35" text-anchor="middle">14:25</text>
<text x="1309.0" y="920" font-size="12" fill="#5f6378" stroke="#5f6378" stroke-width="0.35" text-anchor="middle">14:35</text>
<text x="1411.0" y="920" font-size="12" fill="#5f6378" stroke="#5f6378" stroke-width="0.35" text-anchor="middle">14:45</text>
<text x="1512.0" y="920" font-size="12" fill="#5f6378" stroke="#5f6378" stroke-width="0.35" text-anchor="middle">14:55</text>
<circle cx="451" cy="871" r="8" fill="url(#rg)"/><path d="M451 870.2 L455.3 872.9 L451 875.8 L446.7 872.9 Z" fill="#f0463a"/><path d="M451 866.6 L455.3 869.3 L451 872 L446.7 869.3 Z" fill="#f0463a" fill-opacity="0.55"/><path d="M448.8 867.9 L453.2 870.7 M453.2 867.9 L448.8 870.7" stroke="#5a1e2e" stroke-width="0.7"/>
<circle cx="552" cy="871" r="8" fill="url(#rg)"/><path d="M552 867.8 L555.7 875 L548.3 875 Z" fill="#f0463a"/>
<circle cx="1008" cy="871" r="8" fill="url(#rg)"/><path d="M1008 867.8 L1011.7 875 L1004.3 875 Z" fill="#f0463a"/>
<circle cx="1159" cy="871" r="8" fill="url(#gg)"/><path d="M1159 875 L1162.6 869 L1155.4 869 Z" fill="#2a9c22"/>
<circle cx="1311" cy="871" r="8" fill="url(#rg)"/><path d="M1311 867.8 L1314.7 875 L1307.3 875 Z" fill="#f0463a"/>
</svg>
</body></html>
